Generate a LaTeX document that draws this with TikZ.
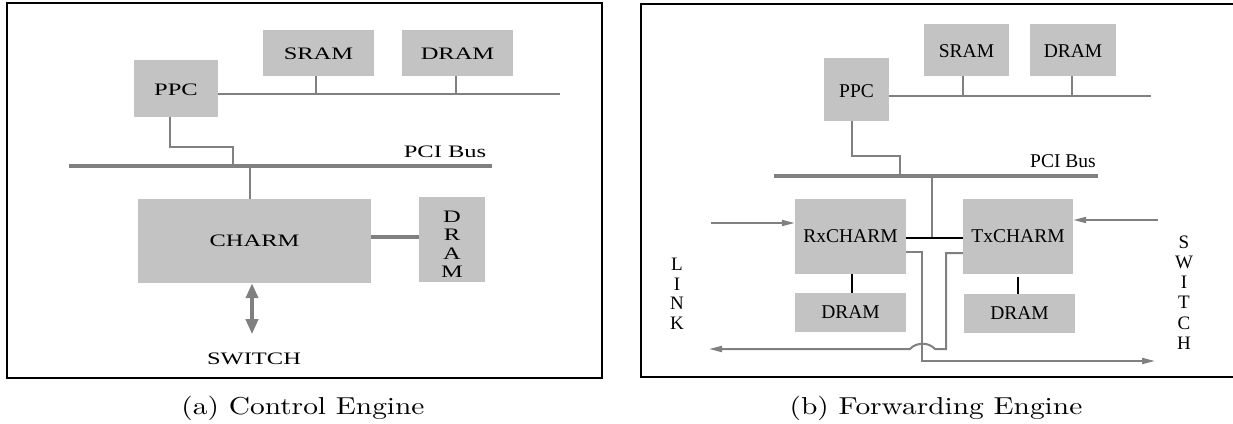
\documentclass[tikz,border=0pt]{standalone}
\usepackage{fontspec}
\usetikzlibrary{arrows.meta}
\newfontfamily\tms{Liberation Serif}
\newfontfamily\tmswide[FakeStretch=1.4]{Liberation Serif}
\newfontfamily\capfont[FakeStretch=1.2]{lmroman10-regular.otf}
\definecolor{boxgray}{RGB}{195,195,195}
\definecolor{linegray}{RGB}{128,128,128}

\begin{document}
\begin{tikzpicture}[x=1pt,y=-1pt,
  box/.style={fill=boxgray, inner sep=0pt, text height=14pt},
  lbl/.style={font=\tmswide\fontsize{17.5}{18.5}\selectfont, inner sep=0pt},
  rlbl/.style={font=\tms\fontsize{19.5}{20}\selectfont, inner sep=0pt},
  caption/.style={font=\capfont\fontsize{24.5}{27}\selectfont, inner sep=0pt},
  gline/.style={draw=linegray, line width=2pt},
  busline/.style={draw=linegray, line width=3.5pt},
  bline/.style={draw=black, line width=2.5pt},
  garrow/.style={draw=linegray, line width=2pt, -{Triangle[length=13pt,width=6pt]}},
  dblarrow/.style={draw=linegray, line width=4pt, {Triangle[length=15pt,width=12pt]}-{Triangle[length=15pt,width=12pt]}},
  frame/.style={draw=black, line width=1.3pt}
]
\useasboundingbox (0,0) rectangle (1233,423);

% ---------------- (a) Control Engine ----------------
\draw[frame] (7,3) rectangle (602,378);

\node[box, lbl, minimum width=111pt, minimum height=46pt] (sramA) at (318.5,53) {SRAM};
\node[box, lbl, minimum width=111pt, minimum height=46pt] (dramA) at (457.5,53) {DRAM};
\node[box, lbl, minimum width=84pt, minimum height=57pt] (ppcA) at (176,88.5) {PPC};
\node[box, lbl, minimum width=233pt, minimum height=84pt, text height=12pt] (charmA) at (254.5,241) {CHARM};
\node[box, minimum width=66pt, minimum height=85pt] (dram2A) at (452,239.5) {};
\node[lbl, align=center] (dramTxtA) at ([yshift=-5pt]dram2A.center) {D\\R\\A\\M};

% memory bus
\coordinate (mbA) at (560,94);
\draw[gline] (ppcA.east |- mbA) -- (mbA);
\draw[gline] ([xshift=-2.5pt]sramA.south) -- ([xshift=-2.5pt]sramA.south |- mbA);
\draw[gline] ([xshift=-1.5pt]dramA.south) -- ([xshift=-1.5pt]dramA.south |- mbA);

% PCI bus
\coordinate (pciAl) at (69,166);
\coordinate (pciAr) at (492,166);
\coordinate (tapA) at (233,166);
\draw[gline] ([xshift=-6pt]ppcA.south) -- ++(0,30) -| (tapA);
\draw[busline] (pciAl) -- (pciAr);
\node[lbl] (pciTxtA) at (445,152) {PCI Bus};
\draw[gline] ([xshift=-4.5pt]charmA.north) -- ([xshift=-4.5pt]charmA.north |- pciAl);

% CHARM to DRAM
\coordinate (lkA) at (0,237);
\draw[busline] (charmA.east |- lkA) -- (dram2A.west |- lkA);

% switch port
\node[lbl] (swA) at (254,359) {SWITCH};
\draw[dblarrow] ([xshift=-2.5pt]charmA.south) -- ++(0,51);

\node[caption] (capA) at (303,408) {(a) Control Engine};

% ---------------- (b) Forwarding Engine ----------------
\draw[frame] (641,4) rectangle (1245,377);

\node[box, rlbl, minimum width=85pt, minimum height=52pt, text height=15.5pt] (sramB) at (966.5,50) {SRAM};
\node[box, rlbl, minimum width=86pt, minimum height=52pt, text height=15.5pt] (dramB) at (1073,50) {DRAM};
\node[box, rlbl, minimum width=65pt, minimum height=63pt, text height=15.5pt] (ppcB) at (856.5,89.5) {PPC};
\node[box, rlbl, minimum width=111pt, minimum height=75pt, text height=13pt] (rx) at (850.5,236.5) {RxCHARM};
\node[box, rlbl, minimum width=110pt, minimum height=75pt, text height=13pt] (tx) at (1018,236.5) {TxCHARM};
\node[box, rlbl, minimum width=111pt, minimum height=39pt, text height=13pt] (rxd) at (850.5,312.5) {DRAM};
\node[box, rlbl, minimum width=111pt, minimum height=39pt, text height=13pt] (txd) at (1019.5,313.5) {DRAM};

% memory bus
\coordinate (mbB) at (1151,96);
\draw[gline] (ppcB.east |- mbB) -- (mbB);
\draw[gline] ([xshift=-3.5pt]sramB.south) -- ([xshift=-3.5pt]sramB.south |- mbB);
\draw[gline] ([xshift=-1pt]dramB.south) -- ([xshift=-1pt]dramB.south |- mbB);

% PCI bus
\coordinate (pciBl) at (774,176);
\coordinate (pciBr) at (1098,176);
\coordinate (tapB) at (900,176);
\draw[gline] ([xshift=-4.5pt]ppcB.south) -- ++(0,35) -| (tapB);
\draw[busline] (pciBl) -- (pciBr);
\node[rlbl] (pciTxtB) at (1063,161) {PCI Bus};

% PCI drop and the link between the two CHARMs
\coordinate (tjB) at (932,238);
\draw[gline] (tjB |- pciBl) -- (tjB);
\draw[bline] (rx.east |- tjB) -- (tx.west |- tjB);

% CHARM to DRAM
\draw[bline] ([xshift=1.5pt]rx.south) -- ([xshift=1.5pt]rxd.north);
\draw[bline] ([yshift=-3pt]tx.south) -- (txd.north -| tx.south);

% inputs
\coordinate (linkIn) at (711,223);
\coordinate (swIn) at (1158,220);
\draw[garrow] (linkIn) -- (rx.west |- linkIn);
\draw[garrow] (swIn) -- (tx.east |- swIn);

% outputs
\coordinate (rxo) at (922,252);
\coordinate (swOut) at (1155,361);
\draw[garrow] (rx.east |- rxo) -- (rxo) |- (swOut);

\coordinate (txo) at (946,253);
\coordinate (linkOut) at (709,349);
\draw[garrow] (tx.west |- txo) -- (txo) -- (txo |- linkOut) -- (935,349)
  .. controls (929,342) and (916,342) .. (910,349) -- (linkOut);

% port labels
\node[rlbl, align=center, font=\tms\fontsize{19}{19.5}\selectfont] (linkTxt) at (677,294) {L\\I\\N\\K};
\node[rlbl, align=center, font=\tms\fontsize{19}{20.2}\selectfont] (swTxt) at (1184,292.5) {S\\W\\I\\T\\C\\H};

\node[caption] (capB) at (936,408) {(b) Forwarding Engine};
\end{tikzpicture}
\end{document}
